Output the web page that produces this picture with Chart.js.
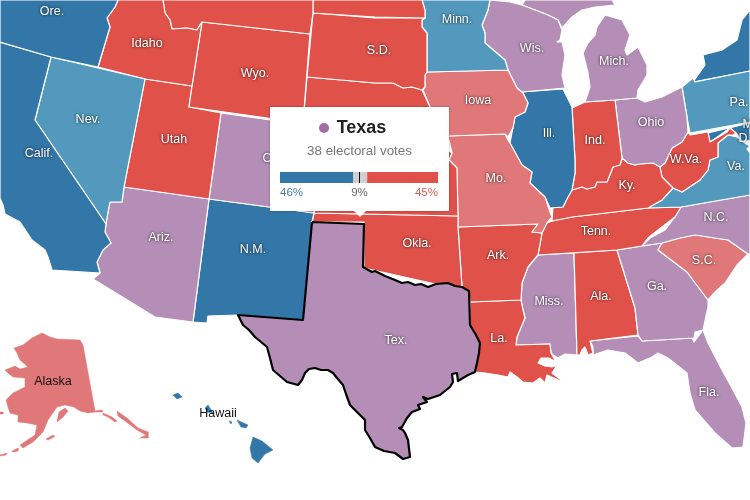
<!DOCTYPE html>
<html>
<head>
<meta charset="utf-8">
<script src="https://cdn.jsdelivr.net/npm/chart.js@4"></script>
<style>
  html, body { margin: 0; padding: 0; background: #fff; overflow: hidden; }
  #wrap { position: relative; width: 750px; height: 500px; overflow: hidden; font-family: "Liberation Sans", Arial, sans-serif; }
  #map { position: absolute; left: 0; top: 0; }
  #tip { position: absolute; left: 270px; top: 107px; width: 179px; height: 104px; background: #fff; box-shadow: 0 0 2px rgba(0,0,0,.35); }
  #arrow { position: absolute; left: 84px; top: 104px; width: 0; height: 0; border-left: 6px solid transparent; border-right: 6px solid transparent; border-top: 6px solid #fff; }
  #tip .name { position: absolute; left: 0; right: 14px; top: 9px; text-align: center; font-size: 18px; font-weight: bold; color: #222; line-height: 22px; }
  #tip .dot { display: inline-block; width: 10px; height: 10px; border-radius: 50%; background: #a56ca8; margin-right: 8px; }
  #tip .votes { position: absolute; left: 0; right: 0; top: 36px; text-align: center; font-size: 13.4px; color: #777; line-height: 16px; }
  #share { position: absolute; left: 10px; top: 65px; }
  .pct { position: absolute; top: 78px; font-size: 11.5px; line-height: 14px; }
</style>
</head>
<body>
<div id="wrap">
  <canvas id="map" width="750" height="500"></canvas>
  <div id="tip">
    <div class="name"><span class="dot"></span>Texas</div>
    <div class="votes">38 electoral votes</div>
    <canvas id="share" width="158" height="11"></canvas>
    <div class="pct" id="pctDem" style="left:10px;color:#4a7ba6"></div>
    <div class="pct" id="pctOther" style="left:0;right:0;text-align:center;color:#666"></div>
    <div class="pct" id="pctRep" style="right:11px;color:#d9605a"></div>
    <div id="arrow"></div>
  </div>
</div>
<script>
// state outlines (x, y in map units)
const texas = [[312,222],[364,224],[363,267],[372,272],[375,271],[385,276],[395,280],[402,283],[408,282],[415,285],[421,284],[428,287],[436,284],[448,283],[455,286],[462,287],[469,291],[470,325],[476,335],[480,343],[479,353],[477,363],[475,372],[468,375],[458,381],[457,373],[452,374],[453,382],[450,387],[440,395],[428,399],[423,397],[427,402],[418,405],[420,409],[412,412],[407,418],[402,427],[399,428],[403,430],[405,433],[408,440],[410,457],[403,459],[395,453],[384,451],[375,447],[370,438],[365,430],[365,420],[357,412],[350,405],[346,394],[343,385],[337,378],[333,373],[328,370],[321,370],[315,368],[309,369],[305,373],[302,380],[298,385],[287,382],[280,376],[273,370],[270,358],[267,347],[261,342],[255,337],[249,330],[243,325],[238,315],[303,320]];
const oregon = [[0,0],[118,0],[115,7],[107,18],[110,27],[98,67],[51,57],[0,42]];
const calif = [[0,42],[51,57],[35,120],[106,224],[105,232],[111,243],[103,250],[97,262],[100,273],[52,270],[48,257],[45,250],[32,240],[20,222],[5,214],[3,205],[0,198]];
const nevada = [[51,57],[145,79],[124,187],[122,202],[118,202],[110,202],[108,212],[106,224],[35,120]];
const idaho = [[98,67],[110,27],[107,18],[115,7],[118,0],[163,0],[165,13],[170,20],[172,29],[187,28],[197,30],[200,25],[202,22],[192,86],[145,79]];
const montana = [[163,0],[165,13],[170,20],[172,29],[187,28],[197,30],[200,25],[202,22],[310,34],[313,13],[313,0]];
const wyoming = [[202,22],[310,34],[303,123],[189,107],[192,86]];
const utah = [[145,79],[192,86],[189,107],[221,113],[209,199],[124,187]];
const colorado = [[221,113],[320,127],[314,213],[209,199]];
const arizona = [[124,187],[209,199],[193,322],[155,317],[93,279],[100,273],[97,262],[103,250],[111,243],[105,232],[106,224],[108,212],[110,202],[118,202],[122,202]];
const newMexico = [[209,199],[314,213],[312,222],[303,320],[238,315],[208,316],[207,323],[193,322]];
const northDakota = [[313,0],[422,0],[425,10],[425,18],[375,17],[313,13]];
const southDakota = [[313,13],[375,18],[425,18],[422,20],[422,27],[427,33],[427,72],[425,75],[425,87],[422,90],[412,87],[403,88],[393,83],[375,83],[307,77]];
const nebraska = [[307,77],[375,83],[393,83],[403,88],[412,87],[422,90],[430,107],[440,130],[448,150],[325,140],[303,123]];
const kansas = [[325,140],[448,150],[452,153],[449,160],[457,168],[458,216],[314,213]];
const oklahoma = [[314,213],[458,216],[458,227],[462,287],[469,291],[440,285],[364,268],[364,222],[312,222]];
const minnesota = [[422,0],[490,0],[488,10],[482,25],[485,33],[485,43],[505,60],[508,70],[427,72],[427,33],[422,27],[422,20],[425,18],[425,10]];
const iowa = [[427,72],[508,70],[512,78],[517,88],[523,93],[528,103],[525,112],[515,117],[513,128],[508,137],[505,134],[448,136],[430,107],[423,90],[425,87],[425,75]];
const missouri = [[448,136],[505,134],[508,140],[510,143],[522,165],[532,172],[530,183],[545,197],[550,212],[552,217],[547,223],[542,233],[532,232],[538,224],[458,227],[457,168],[449,160],[452,153]];
const arkansas = [[458,227],[538,224],[532,232],[542,233],[538,255],[528,267],[522,283],[521,300],[470,302],[469,291],[462,287]];
const louisiana = [[470,302],[521,300],[523,310],[525,318],[517,337],[516,345],[550,344],[551,353],[556,362],[549,358],[541,358],[538,363],[545,366],[552,367],[557,365],[552,373],[565,383],[547,375],[545,383],[540,378],[533,383],[523,382],[517,377],[510,372],[508,377],[498,375],[485,373],[475,372],[477,363],[479,353],[480,343],[476,335],[470,325]];
const wisconsin = [[490,0],[510,2],[522,5],[548,15],[558,20],[562,30],[560,40],[557,42],[562,42],[565,55],[562,75],[565,88],[522,92],[517,88],[512,78],[508,70],[505,60],[485,43],[485,33],[482,25],[488,10]];
const upperMich = [[522,5],[525,0],[612,0],[615,5],[595,7],[582,10],[572,17],[562,28],[558,20],[548,15]];
const lowerMich = [[605,15],[622,20],[630,35],[625,50],[627,55],[638,47],[647,65],[647,75],[638,90],[637,98],[615,100],[585,102],[590,87],[588,73],[583,53],[588,43],[595,35],[597,27]];
const illinois = [[522,92],[563,89],[572,107],[575,160],[575,173],[572,190],[568,197],[563,207],[550,208],[545,197],[530,183],[532,172],[522,165],[510,143],[515,117],[525,112],[528,103],[523,93]];
const indiana = [[572,108],[585,102],[615,100],[622,158],[620,165],[613,167],[607,182],[597,182],[595,187],[587,189],[582,187],[572,190],[575,173],[575,160]];
const ohio = [[615,100],[637,98],[645,102],[662,97],[682,87],[687,117],[688,132],[682,142],[672,148],[665,163],[660,167],[653,163],[640,164],[635,165],[628,163],[622,158]];
const kentucky = [[622,158],[628,163],[635,165],[640,164],[653,163],[660,167],[662,177],[673,188],[662,200],[648,208],[572,217],[552,221],[553,207],[563,207],[568,197],[572,190],[582,187],[587,189],[595,187],[597,182],[607,182],[613,167],[620,165]];
const westVa = [[660,167],[665,163],[672,148],[682,142],[688,132],[690,135],[708,132],[710,142],[727,132],[730,128],[736,133],[733,135],[728,135],[718,143],[718,157],[710,160],[708,170],[700,180],[682,192],[673,188],[662,177]];
const virginia = [[648,208],[662,200],[673,188],[682,192],[700,180],[708,170],[710,160],[718,157],[718,143],[728,135],[737,137],[745,143],[750,146],[747,149],[750,153],[750,195],[681,207]];
const penn = [[682,87],[693,78],[695,82],[750,71],[750,122],[690,133],[687,117]];
const newYork = [[693,82],[705,65],[703,55],[722,50],[737,40],[742,20],[750,10],[750,71]];
const maryland = [[708,133],[750,123],[750,140],[742,142],[737,134],[730,128],[716,138],[710,142]];
const tennessee = [[552,221],[572,217],[648,208],[681,207],[675,217],[658,230],[648,238],[642,246],[617,250],[538,255],[542,233],[547,223]];
const northCar = [[681,207],[750,195],[750,254],[748,254],[728,240],[695,235],[680,238],[662,243],[642,246],[650,238],[665,230],[675,217]];
const southCar = [[662,243],[680,238],[695,235],[728,240],[748,254],[737,265],[725,283],[715,292],[708,300],[687,272],[658,250]];
const georgia = [[617,250],[642,246],[662,243],[658,250],[687,272],[708,300],[708,307],[703,330],[695,332],[694,338],[642,341],[638,335],[635,308]];
const alabama = [[574,253],[617,250],[635,308],[638,335],[590,341],[593,353],[588,355],[585,347],[582,350],[580,355],[577,355]];
const mississippi = [[538,255],[574,253],[577,355],[565,354],[558,358],[553,355],[551,353],[550,344],[516,345],[517,337],[525,318],[523,310],[521,300],[522,283],[528,267]];
const florida = [[590,341],[638,336],[642,341],[692,338],[694,342],[703,330],[708,343],[722,370],[732,388],[742,407],[746,423],[743,447],[732,448],[715,433],[695,410],[690,393],[687,373],[668,358],[658,353],[652,357],[638,363],[625,353],[608,350],[593,355],[593,347]];
const alaska = [[42,333],[50,337],[57,339],[80,340],[83,345],[95,411],[102,410],[103,412],[95,412],[88,413],[80,411],[74,407],[65,405],[57,407],[48,420],[43,432],[33,442],[23,448],[20,445],[35,435],[37,425],[27,423],[18,422],[18,415],[10,413],[8,407],[6,400],[13,393],[25,387],[25,378],[13,377],[8,373],[5,370],[15,366],[20,369],[28,367],[20,360],[17,353],[14,348],[23,345],[32,338]];
const kenai = [[68,411],[63,417],[57,422],[59,412],[65,408]];
const alaskaCoast1 = [[103,413],[112,417],[117,421],[115,422],[108,417],[103,415]];
const alaskaCoast2 = [[117,411],[127,418],[138,428],[148,432],[148,438],[140,438],[146,435],[137,430],[125,421],[118,416]];
const alaskaIsle1 = [[46,439],[53,435],[54,437],[48,440]];
const alaskaIsle2 = [[12,451],[18,448],[18,451],[13,452]];
const alaskaIsle3 = [[0,455],[7,453],[6,455],[0,456]];
const alaskaIsle4 = [[0,412],[3,412],[3,414],[0,414]];
const bigIsland = [[253,437],[262,441],[273,450],[265,454],[258,463],[252,458],[250,448]];
const maui = [[237,420],[248,425],[246,428],[241,427]];
const oahu = [[205,408],[208,405],[213,413],[207,412]];
const kauai = [[173,395],[178,393],[182,397],[177,399]];
const molokai = [[229,421],[232,422],[231,424]];

// draw order comes from the list: first one ends up on top
const stateOutlines = [texas, oregon, calif, nevada, idaho, montana, wyoming, utah, colorado, arizona, newMexico, northDakota, southDakota, nebraska, kansas, oklahoma, minnesota, iowa, missouri, arkansas, louisiana, wisconsin, upperMich, lowerMich, illinois, indiana, ohio, kentucky, westVa, virginia, penn, newYork, maryland, tennessee, northCar, southCar, georgia, alabama, mississippi, florida, alaska, kenai, alaskaCoast1, alaskaCoast2, alaskaIsle1, alaskaIsle2, alaskaIsle3, alaskaIsle4, bigIsland, maui, oahu, kauai, molokai];
const stateRatings = ["toss", "solidD", "solidD", "leanD", "solidR", "solidR", "solidR", "solidR", "toss", "toss", "solidD", "solidR", "solidR", "solidR", "solidR", "solidR", "leanD", "leanR", "leanR", "solidR", "solidR", "toss", "toss", "toss", "solidD", "solidR", "toss", "solidR", "solidR", "leanD", "leanD", "solidD", "solidD", "solidR", "toss", "leanR", "toss", "solidR", "toss", "toss", "leanR", "leanR", "leanR", "leanR", "leanR", "leanR", "leanR", "leanR", "solidD", "solidD", "solidD", "solidD", "solidD"];
// these sit on white, so no white edge round them
const offshore = [alaska, kenai, alaskaCoast1, alaskaCoast2, alaskaIsle1, alaskaIsle2, alaskaIsle3, alaskaIsle4, bigIsland, maui, oahu, kauai, molokai];

const labelNames = ["Ore.", "Idaho", "Nev.", "Calif.", "Utah", "Wyo.", "S.D.", "Ariz.", "N.M.", "Colo.", "Okla.", "Ark.", "Tex.", "La.", "Miss.", "Ala.", "Ga.", "Fla.", "S.C.", "N.C.", "Tenn.", "Ky.", "Mo.", "Iowa", "Minn.", "Wis.", "Mich.", "Ill.", "Ind.", "Ohio", "W.Va.", "Va.", "Pa.", "Md.", "D.C."];
const labelX = [52, 147, 88, 39, 174, 255, 379, 161, 253, 277, 417, 498, 396, 499, 549, 601, 657, 709, 704, 716, 596, 627, 496, 478, 457, 532, 614, 549, 595, 651, 686, 736, 739, 753, 751];
const labelY = [12, 44, 120, 154, 140, 74, 51, 238, 250, 159, 244, 256, 341, 339, 302, 297, 287, 393, 261, 218, 232, 186, 179, 101, 20, 49, 62, 134, 141, 123, 160, 167, 103, 125, 139];
const plainNames = ["Alaska", "Hawaii"];
const plainX = [53, 218];
const plainY = [382, 414];

const shareLabels = ["Texas"];
const demShare = [46];
const otherShare = [9];
const repShare = [45];

const ratingColors = { solidD: "#3376a8", leanD: "#5299bd", toss: "#b48eb6", leanR: "#e07778", solidR: "#e0514a" };

const mapLabels = {
  id: "mapLabels",
  afterDatasetsDraw(chart) {
    const ctx = chart.ctx;
    const x = chart.scales.x;
    const y = chart.scales.y;
    ctx.save();
    ctx.textAlign = "center";
    ctx.textBaseline = "middle";
    ctx.font = '12.5px "Liberation Sans", Arial, sans-serif';
    ctx.fillStyle = "#fff";
    ctx.shadowColor = "rgba(0,0,0,.9)";
    ctx.shadowBlur = 3;
    labelNames.forEach((name, i) => {
      ctx.fillText(name, x.getPixelForValue(labelX[i]), y.getPixelForValue(labelY[i]));
    });
    ctx.shadowBlur = 0;
    ctx.fillStyle = "#111";
    plainNames.forEach((name, i) => {
      ctx.fillText(name, x.getPixelForValue(plainX[i]), y.getPixelForValue(plainY[i]));
    });
    ctx.restore();
  }
};

const datasets = stateOutlines.map((outline, i) => {
  const points = outline.map(p => ({ x: p[0], y: p[1] }));
  points.push(points[0]);
  const color = ratingColors[stateRatings[i]];
  let edge = "#fff";
  let edgeWidth = 1.2;
  if (outline === texas) {
    edge = "#000";
    edgeWidth = 2.2;
  } else if (offshore.includes(outline)) {
    edge = color;
    edgeWidth = 0.5;
  }
  return {
    data: points,
    showLine: true,
    fill: "shape",
    backgroundColor: color,
    borderColor: edge,
    borderWidth: edgeWidth,
    borderJoinStyle: "round",
    pointRadius: 0,
    tension: 0
  };
});

new Chart(document.getElementById("map"), {
  type: "scatter",
  data: { datasets: datasets },
  options: {
    responsive: false,
    animation: false,
    events: [],
    layout: { padding: 0 },
    plugins: { legend: { display: false }, tooltip: { enabled: false } },
    scales: {
      x: { type: "linear", min: 0, max: 750, display: false },
      y: { type: "linear", min: 0, max: 500, reverse: true, display: false }
    }
  },
  plugins: [mapLabels]
});

// mark at the halfway point of the share bar
const halfMark = {
  id: "halfMark",
  afterDatasetsDraw(chart) {
    const ctx = chart.ctx;
    const px = Math.round(chart.scales.x.getPixelForValue(50)) + 0.5;
    ctx.save();
    ctx.strokeStyle = "#111";
    ctx.lineWidth = 1;
    ctx.beginPath();
    ctx.moveTo(px, 0);
    ctx.lineTo(px, chart.height);
    ctx.stroke();
    ctx.restore();
  }
};

new Chart(document.getElementById("share"), {
  type: "bar",
  data: {
    labels: shareLabels,
    datasets: [
      { data: demShare, backgroundColor: "#3376a8" },
      { data: otherShare, backgroundColor: "#cfcfcf" },
      { data: repShare, backgroundColor: "#e0514a" }
    ]
  },
  options: {
    indexAxis: "y",
    responsive: false,
    animation: false,
    events: [],
    layout: { padding: 0 },
    datasets: { bar: { barPercentage: 1, categoryPercentage: 1 } },
    plugins: { legend: { display: false }, tooltip: { enabled: false } },
    scales: {
      x: { stacked: true, min: 0, max: 100, display: false },
      y: { stacked: true, display: false }
    }
  },
  plugins: [halfMark]
});

document.getElementById("pctDem").textContent = demShare[0] + "%";
document.getElementById("pctOther").textContent = otherShare[0] + "%";
document.getElementById("pctRep").textContent = repShare[0] + "%";
</script>
</body>
</html>
